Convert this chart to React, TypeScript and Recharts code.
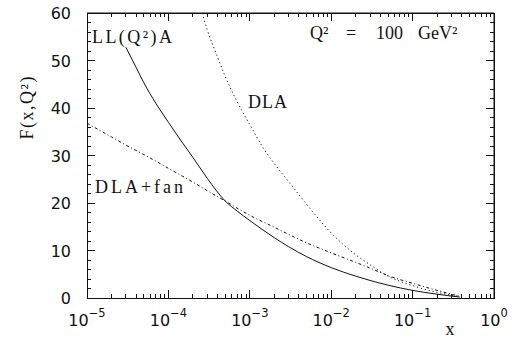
import React from 'react';
import { LineChart, Line, XAxis, YAxis, ReferenceLine } from 'recharts';

// ---- data ----
const llaX = [3e-5, 4e-5, 5e-5, 7e-5, 1e-4, 1.5e-4, 2e-4, 3e-4, 5e-4, 7e-4, 1e-3, 2e-3, 3e-3, 5e-3, 1e-2, 2e-2, 3e-2, 5e-2, 0.1, 0.2, 0.3, 0.38];
const llaY = [52.8, 48.6, 45.3, 41.0, 37.0, 32.6, 29.6, 25.2, 20.4, 18.3, 16.3, 12.7, 10.8, 8.7, 6.4, 4.6, 3.7, 2.7, 1.6, 0.8, 0.4, 0.2];

const fanX = [1e-5, 2e-5, 3e-5, 5e-5, 1e-4, 2e-4, 3e-4, 5e-4, 1e-3, 2e-3, 3e-3, 5e-3, 1e-2, 2e-2, 3e-2, 5e-2, 0.1, 0.2, 0.3, 0.38];
const fanY = [36.8, 33.9, 32.2, 30.2, 27.3, 24.4, 22.6, 20.4, 17.4, 14.9, 13.4, 11.6, 9.5, 7.5, 6.3, 4.7, 3.1, 1.6, 0.8, 0.35];

const dlaX = [2.6e-4, 3e-4, 4e-4, 5e-4, 7e-4, 1e-3, 1.5e-3, 2e-3, 3e-3, 5e-3, 1e-2, 2e-2, 3e-2, 5e-2, 0.1, 0.2, 0.3, 0.38];
const dlaY = [60, 56.5, 50.8, 46.6, 41.3, 36.5, 31.3, 28.3, 24.5, 19.7, 13.7, 9.1, 7.0, 4.6, 2.6, 1.2, 0.6, 0.3];

const xMajorTicks = [1e-5, 1e-4, 1e-3, 1e-2, 1e-1, 1];
const xExpLabels = ['\u22125', '\u22124', '\u22123', '\u22122', '\u22121', '0'];
const minorMult = [2, 3, 4, 5, 6, 7, 8, 9];
const yMajorTicks = [0, 10, 20, 30, 40, 50, 60];
const yMinorStep = 2;

const X_MIN = 1e-5;
const X_MAX = 1;
const Y_MIN = 0;
const Y_MAX = 60;

// ---- derived tables for the library ----
const toRows = (xs: number[], ys: number[]) => xs.map((x, i) => ({ x, y: ys[i] }));
const llaData = toRows(llaX, llaY);
const fanData = toRows(fanX, fanY);
const dlaData = toRows(dlaX, dlaY);

const xAllTicks: number[] = [];
xMajorTicks.forEach((t, i) => {
  xAllTicks.push(t);
  if (i < xMajorTicks.length - 1) minorMult.forEach((m) => xAllTicks.push(t * m));
});
const yAllTicks: number[] = [];
for (let v = Y_MIN; v <= Y_MAX; v += yMinorStep) yAllTicks.push(v);

// ---- layout ----
const W = 516;
const H = 343;
const MARGIN = { top: 13, right: 22, bottom: 0, left: 0 };
const Y_AXIS_W = 87;
const X_AXIS_H = 45;
const PLOT_L = MARGIN.left + Y_AXIS_W;
const PLOT_T = MARGIN.top;
const PLOT_W = W - MARGIN.left - MARGIN.right - Y_AXIS_W;
const PLOT_H = H - MARGIN.top - MARGIN.bottom - X_AXIS_H;
const PLOT_R = PLOT_L + PLOT_W;
const PLOT_B = PLOT_T + PLOT_H;
const MAJOR_LEN = 8;
const MINOR_LEN = 4;

// same mapping the chart axes use (log x, linear y) for the frame tick marks
const xPix = (v: number) => PLOT_L + ((Math.log10(v) - Math.log10(X_MIN)) / Math.log10(X_MAX / X_MIN)) * PLOT_W;
const yPix = (v: number) => PLOT_T + ((Y_MAX - v) / (Y_MAX - Y_MIN)) * PLOT_H;

const SERIF = '"Liberation Serif", "Times New Roman", serif';
const NUMFONT = '"DejaVu Sans", sans-serif';
const INK = '#111';

const majorIndexX = (v: number) => xMajorTicks.findIndex((t) => Math.abs(t - v) / t < 1e-9);
const isMajorY = (v: number) => yMajorTicks.includes(v);

const XTickLabel = (props: any) => {
  const { x, y, payload } = props;
  const idx = majorIndexX(payload.value);
  if (idx < 0) return <g />;
  return (
    <text x={x} y={y + 28} textAnchor="middle" fontFamily={NUMFONT} fontSize={16} fill={INK}>
      10
      <tspan dy={-9} fontSize={11.5}>{xExpLabels[idx]}</tspan>
    </text>
  );
};

const YTickLabel = (props: any) => {
  const { x, y, payload } = props;
  if (!isMajorY(payload.value)) return <g />;
  return (
    <text x={x - 16} y={y + 6} textAnchor="end" fontFamily={NUMFONT} fontSize={16} fill={INK}>
      {payload.value}
    </text>
  );
};

const Frame = () => (
  <g stroke={INK} strokeWidth={1} shapeRendering="crispEdges" fill="none">
    <rect x={PLOT_L} y={PLOT_T} width={PLOT_W} height={PLOT_H} />
    {xAllTicks.map((t) => {
      const len = majorIndexX(t) >= 0 ? MAJOR_LEN : MINOR_LEN;
      const px = xPix(t);
      return (
        <g key={`x${t}`}>
          <line x1={px} x2={px} y1={PLOT_B} y2={PLOT_B - len} />
          <line x1={px} x2={px} y1={PLOT_T} y2={PLOT_T + len} />
        </g>
      );
    })}
    {yAllTicks.map((v) => {
      const len = isMajorY(v) ? MAJOR_LEN : MINOR_LEN;
      const py = yPix(v);
      return (
        <g key={`y${v}`}>
          <line x1={PLOT_L} x2={PLOT_L + len} y1={py} y2={py} />
          <line x1={PLOT_R} x2={PLOT_R - len} y1={py} y2={py} />
        </g>
      );
    })}
  </g>
);

export default function App() {
  return (
    <div style={{ position: 'absolute', left: 0, top: 0, width: W, height: H, background: '#fff' }}>
      <svg width={W} height={H} style={{ position: 'absolute', left: 0, top: 0 }}>
        <g fontFamily={SERIF} fontSize={18} fill={INK}>
          <text x={92} y={43} textLength={80} lengthAdjust="spacing">LL(Q²)A</text>
          <text x={310} y={39}>Q²</text>
          <text x={346} y={39}>=</text>
          <text x={376} y={39}>100</text>
          <text x={418} y={39}>GeV²</text>
          <text x={248} y={108} textLength={39} lengthAdjust="spacing">DLA</text>
          <text x={95} y={193} textLength={88} lengthAdjust="spacing">DLA+fan</text>
          <text x={450} y={335} textAnchor="middle">x</text>
          <text transform="translate(33,108) rotate(-90)" textAnchor="middle" textLength={63} lengthAdjust="spacing">F(x,Q²)</text>
        </g>
      </svg>
      <div style={{ position: 'absolute', left: 0, top: 0 }}>
        <LineChart width={W} height={H} margin={MARGIN}>
          <XAxis
            dataKey="x"
            type="number"
            scale="log"
            domain={[X_MIN, X_MAX]}
            allowDataOverflow
            ticks={xAllTicks}
            interval={0}
            height={X_AXIS_H}
            tickSize={0}
            tickMargin={0}
            tickLine={false}
            tick={<XTickLabel />}
            axisLine={false}
          />
          <YAxis
            type="number"
            domain={[Y_MIN, Y_MAX]}
            ticks={yAllTicks}
            interval={0}
            width={Y_AXIS_W}
            tickSize={0}
            tickMargin={0}
            tickLine={false}
            tick={<YTickLabel />}
            axisLine={false}
          />
          <ReferenceLine y={Y_MAX} stroke={INK} strokeWidth={1} />
          <ReferenceLine x={X_MAX} stroke={INK} strokeWidth={1} />
          <Line data={llaData} dataKey="y" type="monotone" stroke={INK} strokeWidth={1} dot={false} isAnimationActive={false} />
          <Line data={fanData} dataKey="y" type="monotone" stroke={INK} strokeWidth={1} strokeDasharray="3 2.5 1 2.5" dot={false} isAnimationActive={false} />
          <Line data={dlaData} dataKey="y" type="monotone" stroke={INK} strokeWidth={1} strokeDasharray="1.2 2.8" dot={false} isAnimationActive={false} />
        </LineChart>
      </div>
      <svg width={W} height={H} style={{ position: 'absolute', left: 0, top: 0, pointerEvents: 'none' }}>
        <Frame />
      </svg>
    </div>
  );
}
